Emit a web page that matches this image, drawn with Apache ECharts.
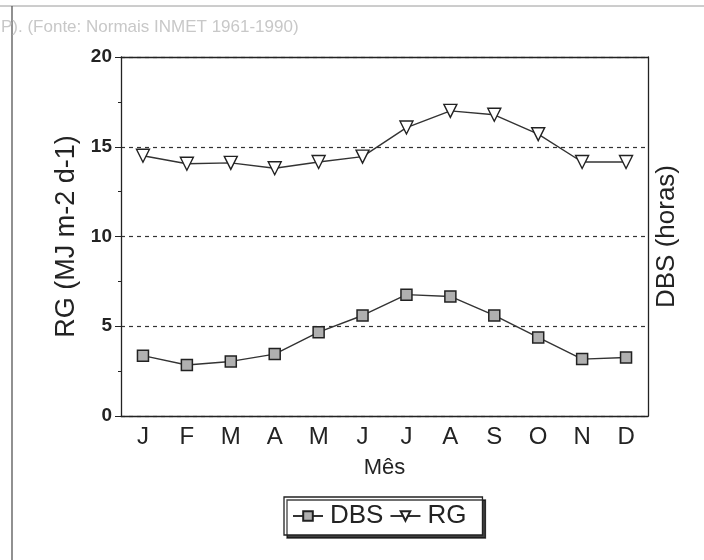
<!DOCTYPE html>
<html>
<head>
<meta charset="utf-8">
<script src="https://cdn.jsdelivr.net/npm/echarts@6/dist/echarts.min.js"></script>
<style>
  html, body { margin: 0; padding: 0; background: #fff; }
  #chart { width: 704px; height: 560px; }
</style>
</head>
<body>
<div id="chart"></div>
<script>
// Monthly means: sunshine duration (DBS, hours) and global radiation (RG, MJ m-2 d-1)
const months = ['J', 'F', 'M', 'A', 'M', 'J', 'J', 'A', 'S', 'O', 'N', 'D'];
const dbsValues = [3.36, 2.84, 3.04, 3.45, 4.67, 5.6, 6.76, 6.66, 5.6, 4.38, 3.17, 3.26];
const rgValues = [14.5, 14.05, 14.1, 13.8, 14.15, 14.45, 16.07, 17.0, 16.78, 15.7, 14.15, 14.15];
const yTicks = [0, 5, 10, 15, 20];

const FONT = 'Liberation Sans';
const INK = '#232323';

const chart = echarts.init(document.getElementById('chart'));

chart.setOption({
  animation: false,
  backgroundColor: '#fff',
  textStyle: { fontFamily: FONT, color: INK },
  grid: { left: 121, right: 56, top: 57, bottom: 144 },
  graphic: [
    // page frame
    { type: 'line', shape: { x1: 0, y1: 6, x2: 704, y2: 6 }, style: { stroke: '#9a9a9a', lineWidth: 1 } },
    { type: 'line', shape: { x1: 12, y1: 6, x2: 12, y2: 560 }, style: { stroke: '#555', lineWidth: 1.3 } },
    {
      type: 'text', left: 1, top: 19,
      style: { text: 'P). (Fonte: Normais INMET 1961-1990)', fontFamily: FONT, fontSize: 17, fill: '#c8c8c8' }
    }
  ],
  legend: {
    data: ['DBS', 'RG'],
    left: 284, top: 497,
    itemWidth: 30, itemHeight: 12, itemGap: 6,
    padding: [6, 16, 6, 8],
    borderColor: '#222', borderWidth: 1.3,
    backgroundColor: '#fff',
    shadowColor: 'rgba(0,0,0,0.75)', shadowOffsetX: 3, shadowOffsetY: 3, shadowBlur: 0,
    textStyle: { fontFamily: FONT, fontSize: 26, color: INK, padding: [0, 0, 0, 2] }
  },
  xAxis: [
    {
      type: 'category', data: months, boundaryGap: true,
      name: 'Mês', nameLocation: 'middle', nameGap: 41,
      nameTextStyle: { fontFamily: FONT, fontSize: 22, color: INK },
      axisLine: { lineStyle: { color: INK, width: 1.3 } },
      axisTick: { alignWithLabel: true, length: 6, lineStyle: { color: INK } },
      axisLabel: { fontFamily: FONT, fontSize: 24, color: INK, margin: 9 },
      z: 5
    },
    {
      // top edge of the plot frame
      type: 'category', data: months, position: 'top',
      axisLine: { onZero: false, lineStyle: { color: INK, width: 1.3 } },
      axisTick: { show: false }, axisLabel: { show: false },
      z: 5
    }
  ],
  yAxis: [
    {
      type: 'value', min: yTicks[0], max: yTicks[yTicks.length - 1], interval: 5,
      name: 'RG (MJ m-2 d-1)', nameLocation: 'middle', nameGap: 33, nameRotate: 90,
      nameTextStyle: { fontFamily: FONT, fontSize: 27, color: INK },
      axisLine: { show: true, lineStyle: { color: INK, width: 1.3 } },
      axisTick: { show: true, length: 6, lineStyle: { color: INK } },
      minorTick: { show: true, splitNumber: 2, length: 3, lineStyle: { color: INK } },
      axisLabel: { fontFamily: FONT, fontSize: 19, fontWeight: 'bold', color: INK, margin: 9 },
      splitLine: { show: true, lineStyle: { color: '#333', type: [4, 4], width: 1.2 } },
      z: 1
    },
    {
      type: 'value', min: yTicks[0], max: yTicks[yTicks.length - 1], interval: 5, position: 'right',
      name: 'DBS (horas)', nameLocation: 'middle', nameGap: 6, nameRotate: 90,
      nameTextStyle: { fontFamily: FONT, fontSize: 26, color: INK },
      axisLine: { show: true, onZero: false, lineStyle: { color: INK, width: 1.3 } },
      axisTick: { show: false }, axisLabel: { show: false }, splitLine: { show: false },
      z: 5
    }
  ],
  series: [
    {
      name: 'DBS', type: 'line', data: dbsValues, yAxisIndex: 0,
      symbol: 'rect', symbolSize: 11, showAllSymbol: true,
      lineStyle: { color: '#333', width: 1.4 },
      itemStyle: { color: '#b0b0b0', borderColor: '#222', borderWidth: 1.5 },
      z: 6
    },
    {
      name: 'RG', type: 'line', data: rgValues, yAxisIndex: 0,
      symbol: 'triangle', symbolRotate: 180, symbolSize: 13, showAllSymbol: true,
      lineStyle: { color: '#333', width: 1.4 },
      itemStyle: { color: '#fff', borderColor: '#222', borderWidth: 1.4 },
      z: 6
    }
  ]
});
</script>
</body>
</html>
